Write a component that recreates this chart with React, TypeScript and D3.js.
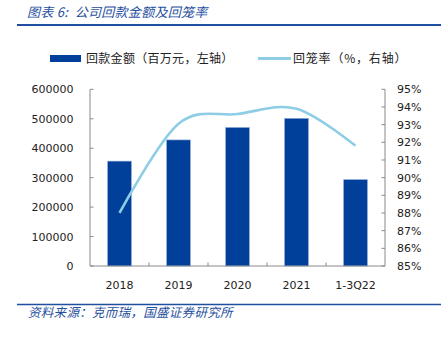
import React from "react";
import * as d3 from "d3";

const categories = ["2018", "2019", "2020", "2021", "1-3Q22"];
const amounts = [356000, 428000, 470000, 501000, 293000];
const rates = [88.0, 93.05, 93.6, 93.9, 91.8];
const leftTicks = [0, 100000, 200000, 300000, 400000, 500000, 600000];
const rightTicks = [85, 86, 87, 88, 89, 90, 91, 92, 93, 94, 95];

const W = 441;
const H = 339;
const M = { left: 90, right: 385, top: 89.3, bottom: 266 };
const BAR = "#00409a";
const LINE = "#8ecde6";
const AXIS = "#8a8a8a";
const TITLE = "#1f4f9e";
const NUM_FONT = "'DejaVu Sans', Verdana, sans-serif";
const CJK_FONT = "'Noto Sans CJK SC', 'Noto Sans', sans-serif";

export default function App() {
  const x = d3
    .scaleBand<string>()
    .domain(categories)
    .range([M.left, M.right])
    .paddingInner(0.6)
    .paddingOuter(0.3);
  const yL = d3.scaleLinear().domain([0, 600000]).range([M.bottom, M.top]);
  const yR = d3.scaleLinear().domain([85, 95]).range([M.bottom, M.top]);
  const cx = (c: string) => (x(c) as number) + x.bandwidth() / 2;

  const line = d3
    .line<number>()
    .x((_, i) => cx(categories[i]))
    .y((v) => yR(v))
    .curve(d3.curveCardinal.tension(0));

  const step = x.step();
  const boundaries = categories.slice(1).map((c) => (x(c) as number) - (step * 0.6) / 2);

  return (
    <svg width={W} height={H} style={{ position: "absolute", left: 0, top: 0, background: "#fff" }}>
      {/* title */}
      <text
        x={27}
        y={17}
        fontFamily={CJK_FONT}
        fontSize={13}
        fontStyle="italic"
        fill={TITLE}
        style={{ whiteSpace: "pre" }}
        letterSpacing={0.3}
      >
        {"图表 6:  公司回款金额及回笼率"}
      </text>
      <line x1={17} x2={441} y1={25} y2={25} stroke={TITLE} strokeWidth={2} />

      {/* legend */}
      <rect x={50} y={55} width={31} height={7} fill={BAR} />
      <text x={86} y={62.5} fontFamily={CJK_FONT} fontSize={12} fill="#222" letterSpacing={0.3}>
        回款金额（百万元，左轴）
      </text>
      <line x1={258} x2={291} y1={58.5} y2={58.5} stroke={LINE} strokeWidth={3} />
      <text x={293} y={62.5} fontFamily={CJK_FONT} fontSize={12} fill="#222" letterSpacing={0.8}>
        回笼率（%，右轴）
      </text>

      {/* bars */}
      {categories.map((c, i) => (
        <rect
          key={c}
          x={x(c)}
          y={yL(amounts[i])}
          width={x.bandwidth()}
          height={M.bottom - yL(amounts[i])}
          fill={BAR}
          stroke="#7f9dd3"
          strokeWidth={0.6}
        />
      ))}

      {/* axes */}
      <line x1={M.left} x2={M.left} y1={M.top} y2={M.bottom} stroke={AXIS} strokeWidth={1} />
      <line x1={M.right} x2={M.right} y1={M.top} y2={M.bottom} stroke={AXIS} strokeWidth={1} />
      <line x1={M.left} x2={M.right} y1={M.bottom} y2={M.bottom} stroke={AXIS} strokeWidth={1} />
      {leftTicks.map((t) => (
        <g key={"l" + t}>
          <line x1={M.left} x2={M.left + 3.5} y1={yL(t)} y2={yL(t)} stroke={AXIS} />
          <text
            x={73.5}
            y={yL(t)}
            dy="0.36em"
            textAnchor="end"
            fontFamily={NUM_FONT}
            fontSize={11}
            fill="#222"
          >
            {t}
          </text>
        </g>
      ))}
      {rightTicks.map((t) => (
        <g key={"r" + t}>
          <line x1={M.right - 3.5} x2={M.right} y1={yR(t)} y2={yR(t)} stroke={AXIS} />
          <text x={397} y={yR(t)} dy="0.36em" fontFamily={NUM_FONT} fontSize={11} fill="#222">
            {t}%
          </text>
        </g>
      ))}
      {boundaries.map((b, i) => (
        <line key={"b" + i} x1={b} x2={b} y1={M.bottom} y2={M.bottom - 3.5} stroke={AXIS} />
      ))}
      {categories.map((c) => (
        <text
          key={"c" + c}
          x={cx(c)}
          y={289}
          textAnchor="middle"
          fontFamily={NUM_FONT}
          fontSize={11}
          fill="#222"
        >
          {c}
        </text>
      ))}

      {/* line */}
      <path d={line(rates) || ""} fill="none" stroke={LINE} strokeWidth={2.6} />

      {/* footer */}
      <line x1={17} x2={441} y1={304.5} y2={304.5} stroke={TITLE} strokeWidth={1.5} />
      <text
        x={28}
        y={317}
        fontFamily={CJK_FONT}
        fontSize={12.5}
        fontStyle="italic"
        fill={TITLE}
        letterSpacing={0.3}
      >
        资料来源：克而瑞，国盛证券研究所
      </text>
    </svg>
  );
}
